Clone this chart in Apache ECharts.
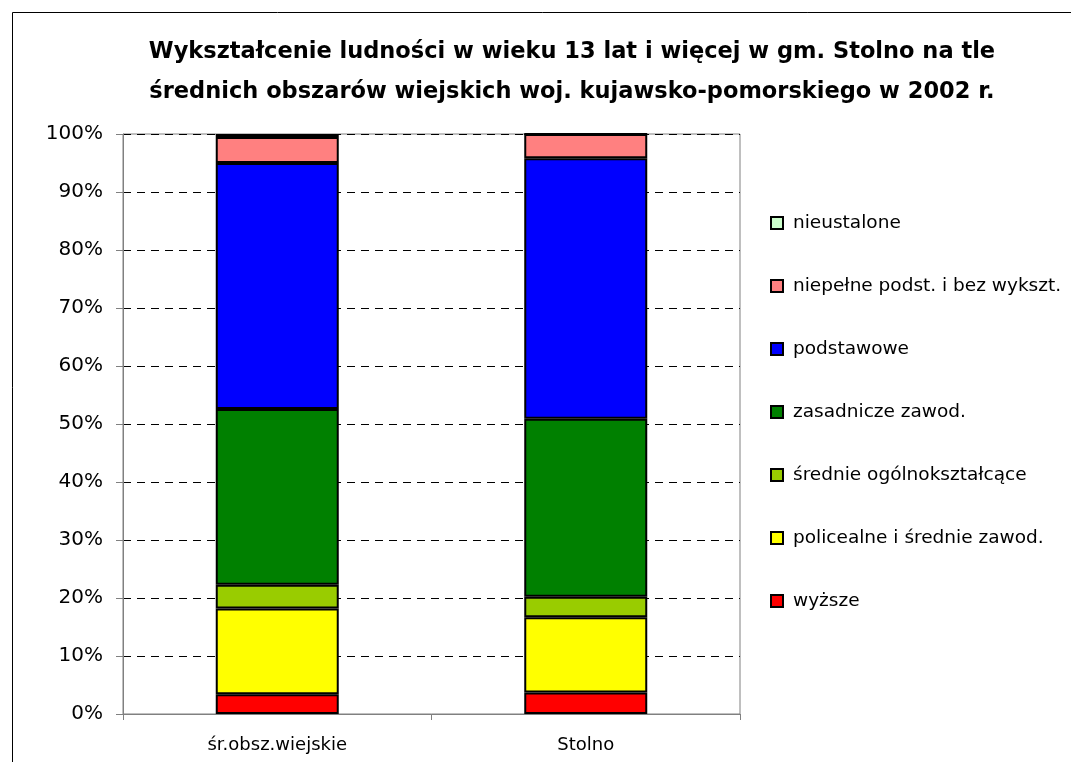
<!DOCTYPE html>
<html>
<head>
<meta charset="utf-8">
<script src="https://cdn.jsdelivr.net/npm/echarts@6/dist/echarts.min.js"></script>
<style>
  html, body { margin: 0; padding: 0; background: #fff; }
  #main { width: 1071px; height: 762px; }
</style>
</head>
<body>
<div id="main"></div>
<script>
// kategorie i udziały (%)
const categories = ['śr.obsz.wiejskie', 'Stolno']
const wyzsze = [3.4, 3.7]
const policealne = [14.8, 13.0]
const srednieOgolne = [4.1, 3.5]
const zasadnicze = [30.3, 30.7]
const podstawowe = [42.4, 44.9]
const niepelne = [4.5, 4.2]
const nieustalone = [0.5, 0.0]

const seriesDefs = [
  { name: 'wyższe', data: wyzsze, color: '#FF0000' },
  { name: 'policealne i średnie zawod.', data: policealne, color: '#FFFF00' },
  { name: 'średnie ogólnokształcące', data: srednieOgolne, color: '#99CC00' },
  { name: 'zasadnicze zawod.', data: zasadnicze, color: '#008000' },
  { name: 'podstawowe', data: podstawowe, color: '#0000FF' },
  { name: 'niepełne podst. i bez wykszt.', data: niepelne, color: '#FF8080' },
  { name: 'nieustalone', data: nieustalone, color: '#CCFFCC' }
]

const font = 'DejaVu Sans, sans-serif'
const chart = echarts.init(document.getElementById('main'))

const option = {
  animation: false,
  backgroundColor: '#fff',
  textStyle: { fontFamily: font },
  graphic: [
    {
      type: 'rect',
      left: 10,
      top: 10,
      shape: { width: 1100, height: 800 },
      style: { fill: 'none', stroke: '#000', lineWidth: 1 },
      silent: true
    }
  ],
  title: {
    text: 'Wykształcenie ludności w wieku 13 lat i więcej w gm. Stolno na tle\nśrednich obszarów wiejskich woj. kujawsko-pomorskiego w 2002 r.',
    left: 567,
    textAlign: 'center',
    top: 27,
    textStyle: {
      fontFamily: font,
      fontSize: 22.5,
      fontWeight: 'bold',
      color: '#000',
      lineHeight: 40
    }
  },
  legend: {
    orient: 'vertical',
    left: 765,
    top: 208,
    itemWidth: 12,
    itemHeight: 12,
    itemGap: 43,
    icon: 'rect',
    data: seriesDefs.map(s => s.name).reverse(),
    textStyle: { fontFamily: font, fontSize: 18.5, color: '#000', lineHeight: 20, padding: [0, 0, 0, 5] }
  },
  grid: {
    left: 123,
    top: 134,
    width: 617,
    height: 580,
    show: true,
    borderColor: '#808080',
    borderWidth: 1
  },
  xAxis: {
    type: 'category',
    data: categories,
    axisLine: { lineStyle: { color: '#808080', width: 1 } },
    axisTick: { show: true, length: 6, lineStyle: { color: '#808080' } },
    axisLabel: { color: '#000', fontSize: 18, margin: 22, fontFamily: font }
  },
  yAxis: {
    type: 'value',
    min: 0,
    max: 100,
    interval: 10,
    axisLine: { show: true, lineStyle: { color: '#808080', width: 1 } },
    axisTick: { show: true, length: 7, lineStyle: { color: '#808080' } },
    axisLabel: { color: '#000', fontSize: 20, margin: 20, formatter: '{value}%', fontFamily: font },
    splitLine: { lineStyle: { color: '#000', type: [8, 6], width: 1 } }
  },
  series: seriesDefs.map(s => ({
    name: s.name,
    type: 'bar',
    stack: 'total',
    barWidth: 123,
    data: s.data,
    itemStyle: { color: s.color, borderColor: '#000', borderWidth: 2 }
  }))
}

chart.setOption(option)
</script>
</body>
</html>
